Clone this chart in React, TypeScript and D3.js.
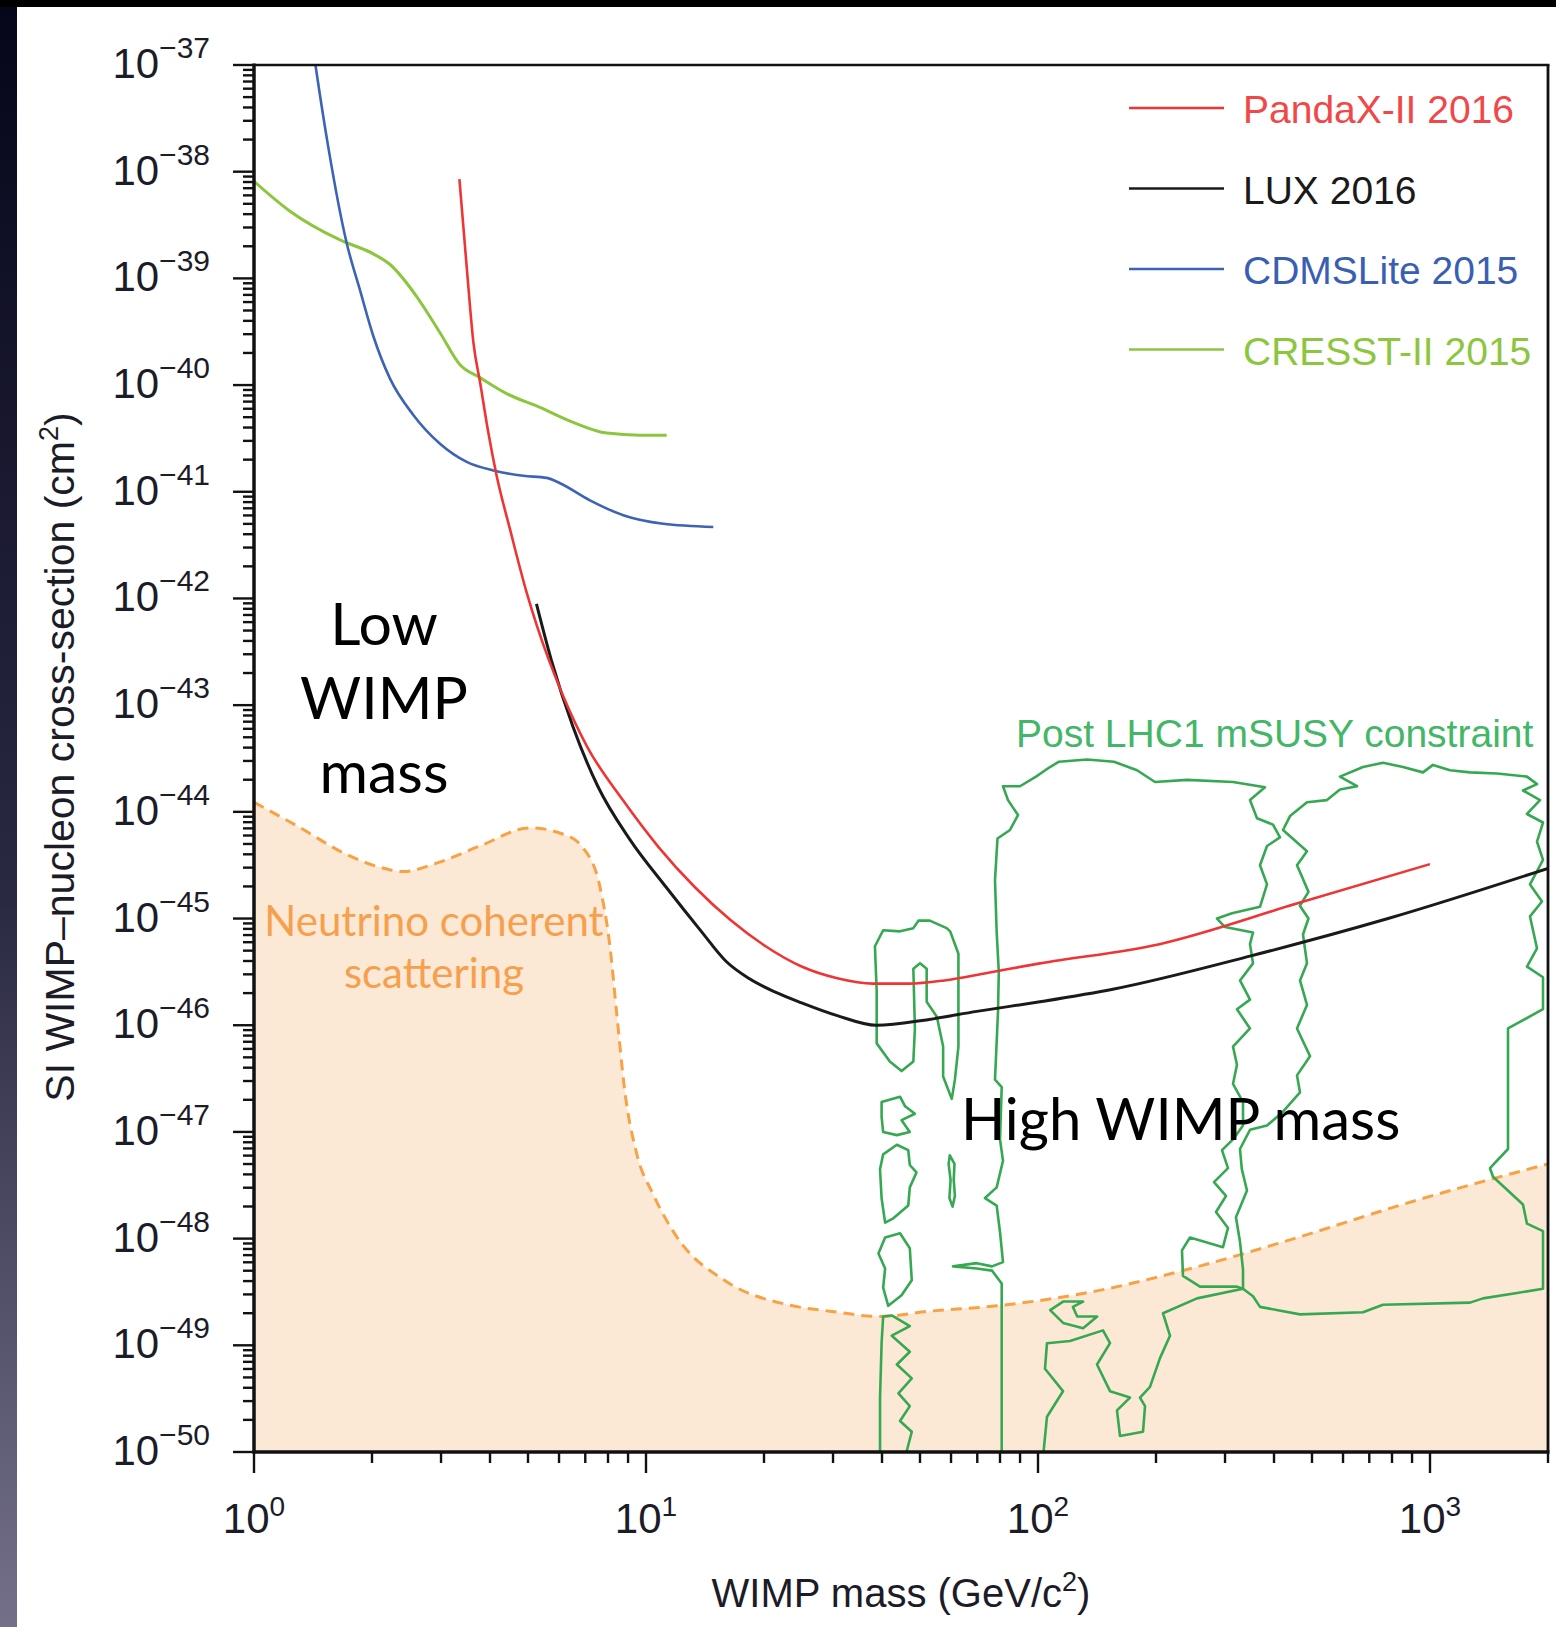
import { useEffect, useRef } from 'react'
import * as d3 from 'd3'

// every point is [log10 mass (GeV/c²), log10 cross-section (cm²)]
type Pt = [number, number]

const W = 1556
const H = 1627
const PLOT = { left: 254, right: 1548, top: 65, bottom: 1452 }

const massDomain: [number, number] = [1, 2000]
const sigmaDomain: [number, number] = [1e-50, 1e-37]
const xDecades = [0, 1, 2, 3]
const yDecades = d3.range(-50, -36)

const legendNames = ['PandaX-II 2016', 'LUX 2016', 'CDMSLite 2015', 'CRESST-II 2015']
const legendLine = ['#ee3535', '#1a1a1a', '#3d63b4', '#8cc63e']
const legendText = ['#f04848', '#1a1a1a', '#3a5fb2', '#8cc63e']

const pandax: Pt[] = [
  [0.524, -38.07], [0.543, -38.91], [0.56, -39.61], [0.577, -39.98], [0.598, -40.45],
  [0.619, -40.85], [0.653, -41.35], [0.696, -41.95], [0.722, -42.26], [0.786, -42.89],
  [0.85, -43.39], [0.941, -43.89], [1.032, -44.33], [1.123, -44.7], [1.214, -45.01],
  [1.305, -45.26], [1.397, -45.45], [1.488, -45.56], [1.579, -45.61], [1.67, -45.61],
  [1.761, -45.58], [1.87, -45.51], [2.005, -45.42], [2.31, -45.24], [2.66, -44.86], [3.0, -44.49],
]

const lux: Pt[] = [
  [0.7205, -42.05], [0.7587, -42.58], [0.8135, -43.2], [0.877, -43.76], [0.959, -44.26],
  [1.05, -44.7], [1.141, -45.12], [1.204, -45.4], [1.262, -45.56], [1.33, -45.69],
  [1.397, -45.79], [1.488, -45.91], [1.588, -46.0], [1.715, -45.95], [1.844, -45.87],
  [2.005, -45.78], [2.194, -45.66], [2.543, -45.35], [2.893, -45.0], [3.301, -44.53],
]

const cdmslite: Pt[] = [
  [0.156, -36.98], [0.158, -37.03], [0.1895, -37.77], [0.2365, -38.67], [0.2704, -39.11],
  [0.3043, -39.54], [0.347, -39.94], [0.4064, -40.28], [0.4745, -40.55], [0.5426, -40.72],
  [0.6105, -40.8], [0.687, -40.85], [0.7467, -40.87], [0.7806, -40.92], [0.857, -41.08],
  [0.942, -41.22], [1.044, -41.3], [1.1717, -41.33],
]

const cresst: Pt[] = [
  [0.0, -38.09], [0.0918, -38.37], [0.2194, -38.64], [0.3043, -38.77], [0.347, -38.87],
  [0.415, -39.17], [0.4745, -39.51], [0.5255, -39.81], [0.5765, -39.93], [0.6446, -40.08],
  [0.7296, -40.21], [0.8146, -40.35], [0.8998, -40.45], [0.9847, -40.47], [1.0528, -40.47],
]

const neutrinoFloor: Pt[] = [
  [0.0, -43.91], [0.109, -44.13], [0.2365, -44.4], [0.3214, -44.52], [0.381, -44.56],
  [0.466, -44.48], [0.5765, -44.32], [0.704, -44.15], [0.789, -44.21], [0.84, -44.34],
  [0.883, -44.71], [0.908, -45.26], [0.925, -45.88], [0.946, -46.62], [0.976, -47.2],
  [1.019, -47.59], [1.078, -47.98], [1.204, -48.4], [1.362, -48.62], [1.469, -48.68],
  [1.597, -48.73], [1.724, -48.68], [1.895, -48.63], [2.15, -48.49], [2.4, -48.27],
  [2.626, -48.03], [2.966, -47.64], [3.301, -47.3],
]

// post-LHC1 mSUSY contours
const susyIslandA: Pt[] = [
  [1.584, -45.26], [1.5885, -45.68], [1.5885, -46.17], [1.622, -46.34], [1.652, -46.43],
  [1.682, -46.34], [1.686, -46.03], [1.682, -45.47], [1.699, -45.42], [1.716, -45.47],
  [1.716, -45.78], [1.742, -45.92], [1.758, -46.2], [1.758, -46.48], [1.78, -46.69],
  [1.788, -46.51], [1.797, -46.2], [1.797, -45.33], [1.776, -45.12], [1.767, -45.09],
  [1.724, -45.02], [1.695, -45.02], [1.682, -45.09], [1.648, -45.12], [1.605, -45.11],
]
const susyBlob1: Pt[] = [
  [1.601, -46.72], [1.648, -46.67], [1.661, -46.76], [1.686, -46.83], [1.652, -46.89],
  [1.673, -47.0], [1.64, -47.03], [1.605, -47.0], [1.601, -46.86],
]
const susyBlob2: Pt[] = [
  [1.605, -47.21], [1.64, -47.12], [1.669, -47.17], [1.673, -47.31], [1.69, -47.38],
  [1.673, -47.52], [1.669, -47.69], [1.631, -47.81], [1.61, -47.85], [1.601, -47.62], [1.597, -47.35],
]
const susyBlob3: Pt[] = [
  [1.61, -47.99], [1.648, -47.95], [1.673, -48.09], [1.678, -48.39], [1.652, -48.53],
  [1.618, -48.63], [1.605, -48.46], [1.61, -48.28], [1.593, -48.14],
]
const susyLowColumn: Pt[] = [
  [1.597, -50.05], [1.597, -49.5], [1.601, -48.98], [1.605, -48.73], [1.627, -48.72],
  [1.673, -48.82], [1.627, -48.91], [1.673, -49.06], [1.64, -49.18], [1.678, -49.31],
  [1.644, -49.45], [1.673, -49.57], [1.648, -49.71], [1.678, -49.81], [1.661, -50.05],
]
const susySliver: Pt[] = [
  [1.775, -47.22], [1.787, -47.3], [1.785, -47.45], [1.788, -47.6], [1.782, -47.7],
  [1.774, -47.62], [1.777, -47.45], [1.772, -47.3],
]
const susyCurl: Pt[] = [
  [2.064, -48.59], [2.031, -48.67], [2.064, -48.79], [2.115, -48.84], [2.151, -48.73],
  [2.1, -48.73], [2.089, -48.64], [2.115, -48.59],
]
const susyMiddle: Pt[] = [
  [1.9074, -50.05], [1.9074, -49.15], [1.9074, -48.42], [1.8827, -48.3], [1.8436, -48.28],
  [1.7832, -48.26], [1.8436, -48.23], [1.8827, -48.26], [1.9107, -48.22], [1.9031, -47.94],
  [1.8946, -47.69], [1.8648, -47.62], [1.8946, -47.52], [1.9107, -47.27], [1.9031, -47.07],
  [1.9074, -46.58], [1.8903, -46.51], [1.8979, -45.88], [1.9, -45.5], [1.8946, -45.13],
  [1.8903, -44.64], [1.8967, -44.25], [1.9286, -44.17], [1.949, -44.03], [1.9235, -43.89],
  [1.9107, -43.76], [1.9541, -43.76], [1.9949, -43.67], [2.0306, -43.58], [2.0536, -43.53],
  [2.125, -43.51], [2.1939, -43.53], [2.2526, -43.61], [2.2985, -43.72], [2.3801, -43.7],
  [2.4974, -43.72], [2.5791, -43.77], [2.5408, -43.89], [2.5587, -44.06], [2.5995, -44.12],
  [2.6173, -44.24], [2.5842, -44.32], [2.5663, -44.5], [2.5842, -44.68], [2.5663, -44.89],
  [2.4949, -44.95], [2.4566, -45.0], [2.477, -45.08], [2.5485, -45.13], [2.5408, -45.24],
  [2.5485, -45.42], [2.5153, -45.58], [2.5408, -45.76], [2.5076, -45.85], [2.5408, -46.03],
  [2.4974, -46.2], [2.5076, -46.37], [2.4974, -46.55], [2.523, -46.72], [2.523, -46.94],
  [2.4974, -47.07], [2.4694, -47.17], [2.4847, -47.34], [2.449, -47.47], [2.4796, -47.6],
  [2.4541, -47.75], [2.4847, -47.9], [2.4719, -48.08], [2.3878, -47.99], [2.3673, -48.11],
  [2.3699, -48.35], [2.4133, -48.45], [2.5076, -48.45], [2.523, -48.47], [2.4056, -48.56],
  [2.3189, -48.7], [2.3367, -48.91], [2.3112, -49.12], [2.2857, -49.39], [2.2602, -49.49],
  [2.273, -49.57], [2.2679, -49.81], [2.2092, -49.85], [2.2015, -49.61], [2.2347, -49.49],
  [2.1837, -49.43], [2.1505, -49.18], [2.1837, -48.98], [2.1658, -48.86], [2.0816, -48.96],
  [2.0229, -48.98], [2.0178, -49.22], [2.0638, -49.43], [2.0229, -49.67], [2.0128, -50.05],
]
const susyRight: Pt[] = [
  [2.625, -44.17], [2.6429, -44.04], [2.6862, -43.91], [2.7372, -43.89], [2.7704, -43.79],
  [2.8138, -43.76], [2.7704, -43.67], [2.8291, -43.58], [2.8801, -43.54], [2.9311, -43.58],
  [2.9821, -43.63], [3.0076, -43.56], [3.051, -43.61], [3.102, -43.63], [3.1709, -43.64],
  [3.2474, -43.67], [3.273, -43.74], [3.2372, -43.8], [3.2806, -43.89], [3.2474, -44.02],
  [3.2883, -44.1], [3.273, -44.28], [3.2883, -44.45], [3.2551, -44.68], [3.2857, -44.84],
  [3.2551, -44.98], [3.273, -45.28], [3.2474, -45.45], [3.2883, -45.55], [3.2883, -45.85],
  [3.199, -46.03], [3.199, -47.16], [3.1531, -47.34], [3.1607, -47.42], [3.2372, -47.68],
  [3.2474, -47.86], [3.2883, -47.93], [3.2883, -48.47], [3.2219, -48.51], [3.1352, -48.56],
  [3.102, -48.6], [2.8801, -48.62], [2.8291, -48.69], [2.6684, -48.71], [2.5663, -48.64],
  [2.5485, -48.54], [2.523, -48.47], [2.523, -48.29], [2.5153, -48.03], [2.505, -47.8],
  [2.5332, -47.55], [2.52, -47.35], [2.5153, -47.16], [2.5408, -46.98], [2.5842, -46.94],
  [2.625, -46.81], [2.6684, -46.63], [2.6607, -46.47], [2.6939, -46.29], [2.6607, -46.03],
  [2.6862, -45.81], [2.6684, -45.58], [2.6862, -45.42], [2.676, -45.15], [2.69, -45.0],
  [2.668, -44.88], [2.69, -44.75], [2.676, -44.63], [2.6607, -44.5], [2.6862, -44.37],
]

const susyContours: { pts: Pt[]; closed: boolean }[] = [
  { pts: susyIslandA, closed: true },
  { pts: susyBlob1, closed: true },
  { pts: susyBlob2, closed: true },
  { pts: susyBlob3, closed: true },
  { pts: susyLowColumn, closed: false },
  { pts: susySliver, closed: true },
  { pts: susyCurl, closed: true },
  { pts: susyMiddle, closed: false },
  { pts: susyRight, closed: true },
]

const SANS = "'Liberation Sans', Arial, sans-serif"
const NARROW = "'Liberation Sans Narrow', 'Arial Narrow', 'Liberation Sans', sans-serif"
const HUMANIST = "Lato, 'Open Sans', sans-serif"

export default function App() {
  const svgRef = useRef<SVGSVGElement>(null)

  useEffect(() => {
    const svgEl = svgRef.current
    if (!svgEl) return
    const svg = d3.select(svgEl)
    svg.selectAll('*').remove()

    const x = d3.scaleLog(massDomain, [PLOT.left, PLOT.right])
    const y = d3.scaleLog(sigmaDomain, [PLOT.bottom, PLOT.top])
    const px = (p: Pt) => x(10 ** p[0])
    const py = (p: Pt) => y(10 ** p[1])

    // ── Page background ────────────────────────────────────────────────────
    const defs = svg.append('defs')
    const grad = defs.append('linearGradient').attr('id', 'edge')
      .attr('x1', 0).attr('y1', 0).attr('x2', 0).attr('y2', 1)
    grad.append('stop').attr('offset', '0%').attr('stop-color', '#06061a')
    grad.append('stop').attr('offset', '55%').attr('stop-color', '#2a2944')
    grad.append('stop').attr('offset', '100%').attr('stop-color', '#74708a')
    defs.append('clipPath').attr('id', 'plot-clip').append('rect')
      .attr('x', PLOT.left).attr('y', PLOT.top)
      .attr('width', PLOT.right - PLOT.left).attr('height', PLOT.bottom - PLOT.top)

    svg.append('rect').attr('width', W).attr('height', H).attr('fill', '#fff')
    svg.append('rect').attr('width', 17).attr('height', H).attr('fill', 'url(#edge)')
    svg.append('rect').attr('width', W).attr('height', 7).attr('fill', '#000')

    const plot = svg.append('g').attr('clip-path', 'url(#plot-clip)')
    const smooth = d3.curveMonotoneX

    // ── Neutrino floor ─────────────────────────────────────────────────────
    const floorArea = d3.area<Pt>().x(px).y0(y(sigmaDomain[0])).y1(py).curve(smooth)
    plot.append('path').datum(neutrinoFloor).attr('d', floorArea).attr('fill', '#fbe8d5')
    plot.append('path').datum(neutrinoFloor)
      .attr('d', d3.line<Pt>().x(px).y(py).curve(smooth))
      .attr('fill', 'none').attr('stroke', '#f7a244').attr('stroke-width', 3)
      .attr('stroke-dasharray', '11 7')

    // ── mSUSY contours ─────────────────────────────────────────────────────
    susyContours.forEach(c => {
      const line = d3.line<Pt>().x(px).y(py).curve(c.closed ? d3.curveLinearClosed : d3.curveLinear)
      plot.append('path').datum(c.pts).attr('d', line)
        .attr('fill', 'none').attr('stroke', '#37a852').attr('stroke-width', 2.6)
        .attr('stroke-linejoin', 'round')
    })

    // ── Exclusion curves ───────────────────────────────────────────────────
    const curveLine = d3.line<Pt>().x(px).y(py).curve(smooth)
    const curves: [Pt[], string, number][] = [
      [cresst, legendLine[3], 3],
      [cdmslite, legendLine[2], 2.6],
      [lux, legendLine[1], 3],
      [pandax, legendLine[0], 2.6],
    ]
    curves.forEach(([data, color, w]) => {
      plot.append('path').datum(data).attr('d', curveLine)
        .attr('fill', 'none').attr('stroke', color).attr('stroke-width', w)
    })

    // ── Frame ──────────────────────────────────────────────────────────────
    const frame = svg.append('g').attr('stroke', '#111')
    frame.append('line').attr('x1', PLOT.left).attr('x2', PLOT.right + 1.5)
      .attr('y1', PLOT.top).attr('y2', PLOT.top).attr('stroke-width', 2.6)
    frame.append('line').attr('x1', PLOT.right).attr('x2', PLOT.right)
      .attr('y1', PLOT.top).attr('y2', PLOT.bottom).attr('stroke-width', 2.8)
    frame.append('line').attr('x1', PLOT.left - 1.5).attr('x2', PLOT.right + 1.5)
      .attr('y1', PLOT.bottom).attr('y2', PLOT.bottom).attr('stroke-width', 3.5)
    frame.append('line').attr('x1', PLOT.left).attr('x2', PLOT.left)
      .attr('y1', PLOT.top - 1.5).attr('y2', PLOT.bottom + 1.5).attr('stroke-width', 3.5)

    // ── Ticks ──────────────────────────────────────────────────────────────
    const yTicks = yDecades.flatMap(k =>
      (k < -37 ? d3.range(1, 10) : [1]).map(j => ({ v: j * 10 ** k, major: j === 1 })))
    const xTicks = xDecades.flatMap(k =>
      d3.range(1, 10).map(j => ({ v: j * 10 ** k, major: j === 1 })))
      .filter(t => t.v <= massDomain[1])

    const ticks = svg.append('g').attr('stroke', '#111').attr('stroke-width', 2.4)
    yTicks.forEach(t => {
      const yy = y(t.v)
      ticks.append('line').attr('x1', PLOT.left - (t.major ? 21 : 11)).attr('x2', PLOT.left)
        .attr('y1', yy).attr('y2', yy)
    })
    xTicks.forEach(t => {
      const xx = x(t.v)
      ticks.append('line').attr('x1', xx).attr('x2', xx)
        .attr('y1', PLOT.bottom).attr('y2', PLOT.bottom + (t.major ? 21 : 11))
    })

    // ── Tick labels ────────────────────────────────────────────────────────
    yDecades.forEach(k => {
      const t = svg.append('text').attr('x', 210).attr('y', y(10 ** k) + 13)
        .attr('text-anchor', 'end').attr('font-family', NARROW).attr('fill', '#1c1c28')
      t.append('tspan').attr('font-size', 42).text('10')
      t.append('tspan').attr('font-size', 30).attr('dy', -20).text(`\u2212${-k}`)
    })
    xDecades.forEach(k => {
      const t = svg.append('text').attr('x', x(10 ** k)).attr('y', 1533)
        .attr('text-anchor', 'middle').attr('font-family', NARROW).attr('fill', '#1c1c28')
      t.append('tspan').attr('font-size', 42).text('10')
      t.append('tspan').attr('font-size', 28).attr('dy', -17).text(`${k}`)
    })

    // ── Axis titles ────────────────────────────────────────────────────────
    const xt = svg.append('text').attr('x', 901).attr('y', 1607).attr('text-anchor', 'middle')
      .attr('font-family', SANS).attr('font-size', 40).attr('fill', '#1c1c28')
    xt.append('tspan').text('WIMP mass (GeV/c')
    xt.append('tspan').attr('font-size', 27).attr('dy', -16).text('2')
    xt.append('tspan').attr('dy', 16).text(')')

    const yt = svg.append('text').attr('transform', 'translate(74,757) rotate(-90)')
      .attr('text-anchor', 'middle').attr('font-family', SANS).attr('font-size', 41).attr('fill', '#1c1c28')
    yt.append('tspan').text('SI WIMP\u2013nucleon cross-section (cm')
    yt.append('tspan').attr('font-size', 27).attr('dy', -16).text('2')
    yt.append('tspan').attr('dy', 16).text(')')

    // ── Legend ─────────────────────────────────────────────────────────────
    legendNames.forEach((name, i) => {
      const ly = 108 + i * 80.5
      svg.append('line').attr('x1', 1129).attr('x2', 1224).attr('y1', ly).attr('y2', ly)
        .attr('stroke', legendLine[i]).attr('stroke-width', 2.6)
      svg.append('text').attr('x', 1243).attr('y', ly + 15)
        .attr('font-family', SANS).attr('font-size', 39).attr('fill', legendText[i])
        .text(name)
    })

    // ── Annotations ────────────────────────────────────────────────────────
    ;[['Low', 645], ['WIMP', 719], ['mass', 793]].forEach(([s, by]) => {
      svg.append('text').attr('x', 384).attr('y', by as number).attr('text-anchor', 'middle')
        .attr('font-family', HUMANIST).attr('font-size', 59).attr('fill', '#000').text(s as string)
    })
    svg.append('text').attr('x', 961).attr('y', 1140)
      .attr('font-family', HUMANIST).attr('font-size', 58).attr('fill', '#000').text('High WIMP mass')

    ;[['Neutrino coherent', 936], ['scattering', 988]].forEach(([s, by]) => {
      svg.append('text').attr('x', 434).attr('y', by as number).attr('text-anchor', 'middle')
        .attr('font-family', HUMANIST).attr('font-size', 42).attr('fill', '#f6a04d').text(s as string)
    })
    svg.append('text').attr('x', 1016).attr('y', 747)
      .attr('font-family', SANS).attr('font-size', 39).attr('fill', '#43b667')
      .text('Post LHC1 mSUSY constraint')
  }, [])

  return (
    <svg ref={svgRef} width={W} height={H}
      style={{ position: 'absolute', left: 0, top: 0, display: 'block' }} />
  )
}
